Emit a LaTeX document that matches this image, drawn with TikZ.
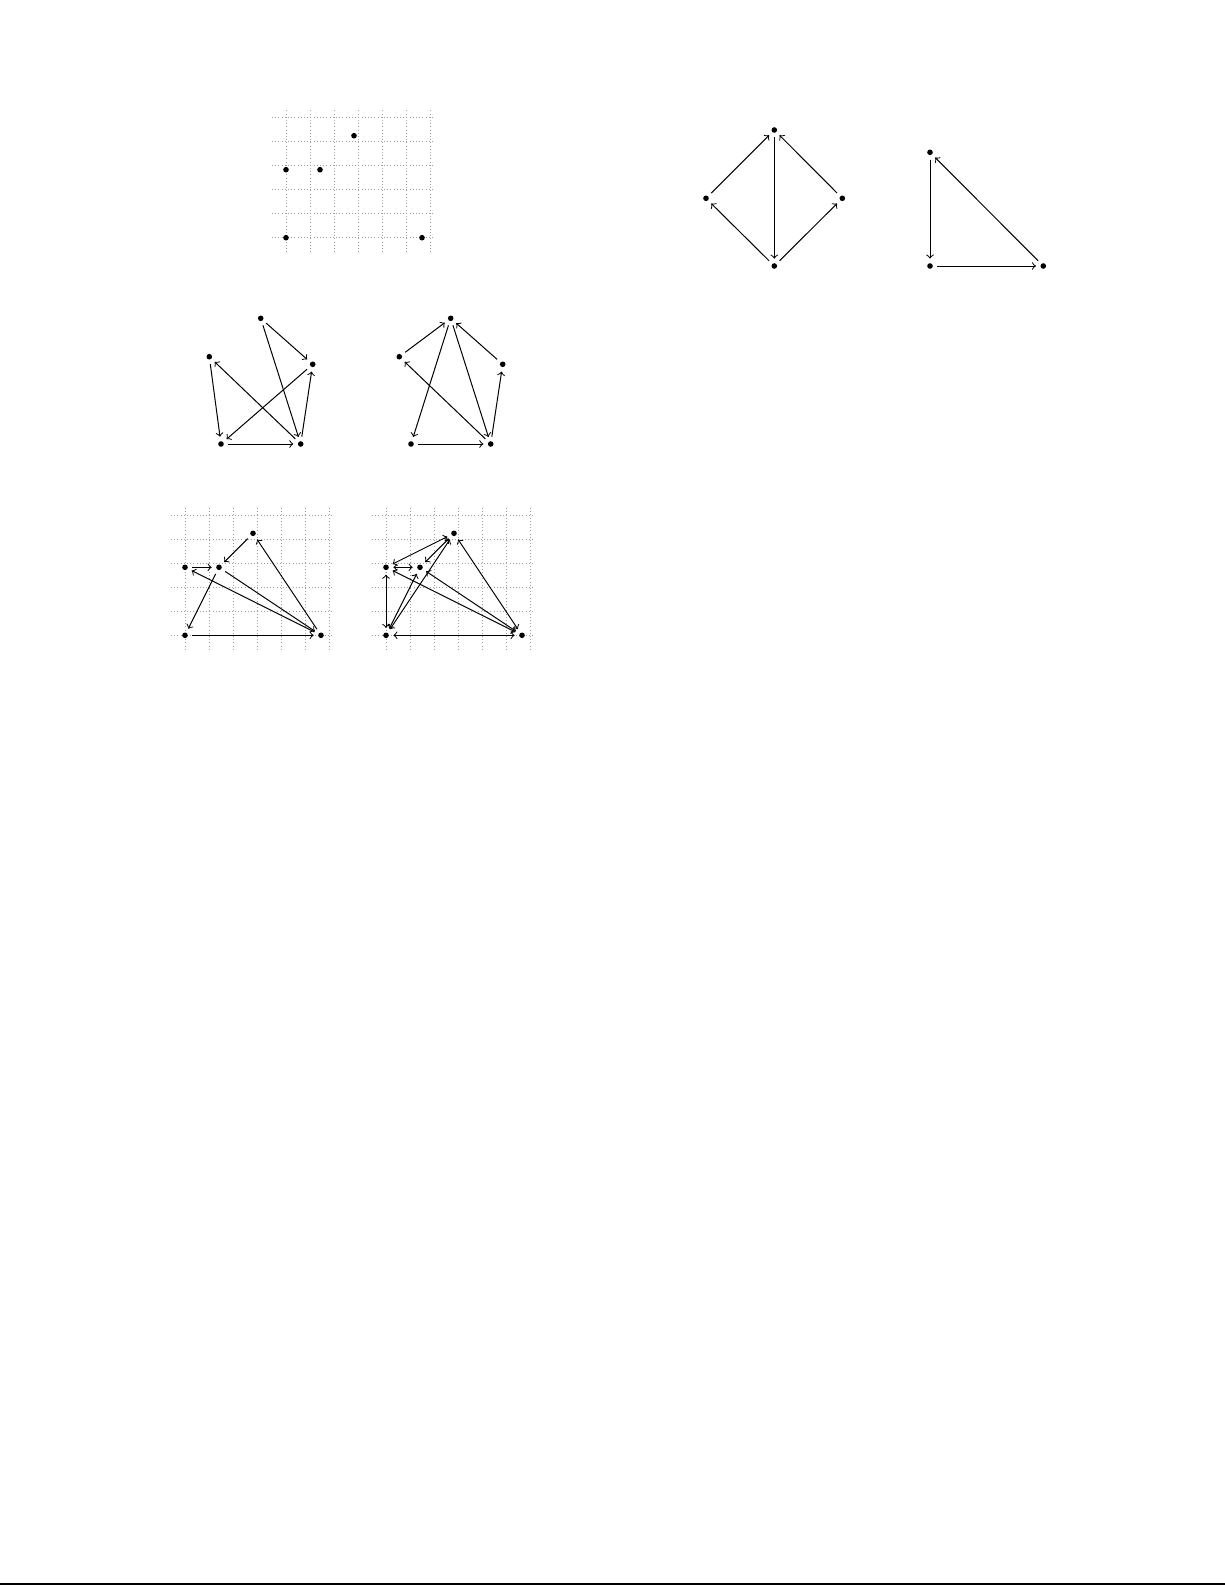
\documentclass[tikz,border=0pt]{standalone}
\begin{document}
\begin{tikzpicture}[x=0.5pt,y=-0.5pt]
\tikzset{
  vtx/.style={circle, inner sep=0pt, minimum size=7pt,
    path picture={\fill[black] (path picture bounding box.center) circle (1.4pt);}},
  arc/.style={->, line width=0.5pt},
  biarc/.style={<->, line width=0.5pt},
  gridline/.style={gray!75, line width=0.3pt, dash pattern=on 0.3pt off 1.3pt},
}
\useasboundingbox (0,0) rectangle (1225,1585);
% grids
\foreach \ox/\oy in {286/237.7, 185/635.3, 386/635.3}{
  \foreach \k in {0,...,6}
    \draw[gridline] ({\ox+24*\k},{\oy+14}) -- ({\ox+24*\k},{\oy-128});
  \foreach \k in {0,...,5}
    \draw[gridline] ({\ox-14},{\oy-24*\k}) -- ({\ox+149},{\oy-24*\k});
}
% top grid points
\node[vtx] (t1) at (286,237.7) {};
\node[vtx] (t2) at (422,237.7) {};
\node[vtx] (t3) at (286,169.7) {};
\node[vtx] (t4) at (320,169.7) {};
\node[vtx] (t5) at (354,135.7) {};
% middle left
\node[vtx] (mlA) at (260.7,318.3) {};
\node[vtx] (mlB) at (209.3,356.7) {};
\node[vtx] (mlC) at (312.7,364.3) {};
\node[vtx] (mlD) at (221,444) {};
\node[vtx] (mlE) at (300.7,444) {};
\draw[arc] (mlA) -- (mlC);
\draw[arc] (mlA) -- (mlE);
\draw[arc] (mlB) -- (mlD);
\draw[arc] (mlE) -- (mlB);
\draw[arc] (mlC) -- (mlD);
\draw[arc] (mlD) -- (mlE);
\draw[arc] (mlE) -- (mlC);
% middle right
\node[vtx] (mrA) at (450.7,318.3) {};
\node[vtx] (mrB) at (399.3,356.7) {};
\node[vtx] (mrC) at (502.7,364.3) {};
\node[vtx] (mrD) at (411,444) {};
\node[vtx] (mrE) at (490.7,444) {};
\draw[arc] (mrB) -- (mrA);
\draw[arc] (mrC) -- (mrA);
\draw[arc] (mrA) -- (mrD);
\draw[arc] (mrA) -- (mrE);
\draw[arc] (mrE) -- (mrB);
\draw[arc] (mrD) -- (mrE);
\draw[arc] (mrE) -- (mrC);
% bottom left
\node[vtx] (b1) at (185,635.3) {};
\node[vtx] (b2) at (321,635.3) {};
\node[vtx] (b3) at (185,567.3) {};
\node[vtx] (b4) at (219,567.3) {};
\node[vtx] (b5) at (253,533.3) {};
\draw[arc] (b5) -- (b4);
\draw[arc] (b3) -- (b4);
\draw[arc] (b4) -- (b1);
\draw[arc] (b2) -- (b3);
\draw[arc] (b4) -- (b2);
\draw[arc] (b2) -- (b5);
\draw[arc] (b1) -- (b2);
% bottom right
\node[vtx] (c1) at (386,635.3) {};
\node[vtx] (c2) at (522,635.3) {};
\node[vtx] (c3) at (386,567.3) {};
\node[vtx] (c4) at (420,567.3) {};
\node[vtx] (c5) at (454,533.3) {};
\draw[biarc] (c1) -- (c2);
\draw[biarc] (c1) -- (c3);
\draw[biarc] (c1) -- (c4);
\draw[biarc] (c1) -- (c5);
\draw[biarc] (c2) -- (c3);
\draw[biarc] (c2) -- (c4);
\draw[biarc] (c2) -- (c5);
\draw[biarc] (c3) -- (c4);
\draw[biarc] (c3) -- (c5);
\draw[biarc] (c4) -- (c5);
% diamond
\node[vtx] (dT) at (774.3,130) {};
\node[vtx] (dL) at (706,198.3) {};
\node[vtx] (dR) at (842.3,198.3) {};
\node[vtx] (dB) at (774.3,266) {};
\draw[arc] (dL) -- (dT);
\draw[arc] (dR) -- (dT);
\draw[arc] (dT) -- (dB);
\draw[arc] (dB) -- (dL);
\draw[arc] (dB) -- (dR);
% triangle
\node[vtx] (rT) at (930,152.3) {};
\node[vtx] (rL) at (930,266) {};
\node[vtx] (rR) at (1043.3,266) {};
\draw[arc] (rT) -- (rL);
\draw[arc] (rL) -- (rR);
\draw[arc] (rR) -- (rT);
% bottom rule
\coordinate (ruleL) at (0,1584);
\coordinate (ruleR) at (1225,1584);
\draw[line width=0.6pt] (ruleL) -- (ruleR);
\end{tikzpicture}
\end{document}
